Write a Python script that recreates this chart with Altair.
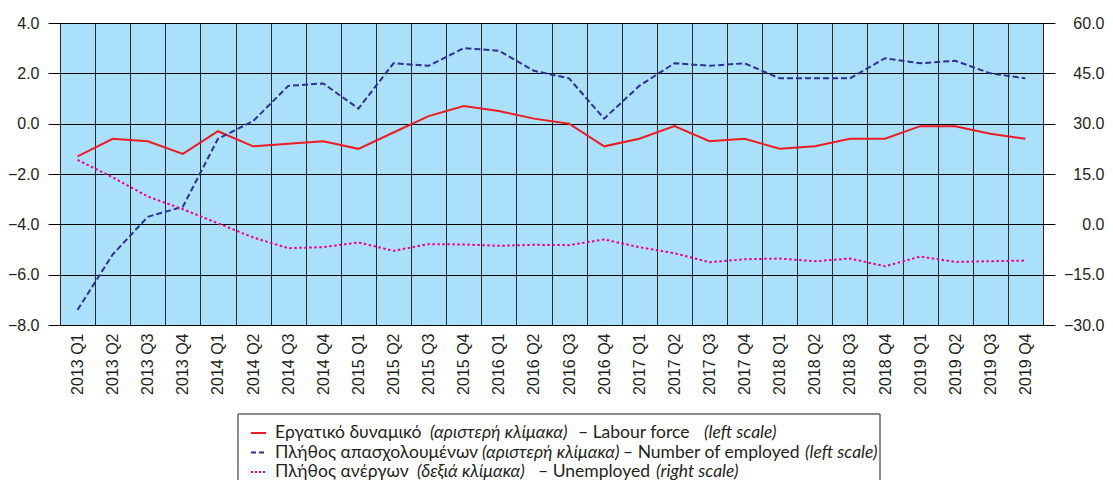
import altair as alt
import pandas as pd

quarters = [f"{y} Q{q}" for y in range(2013, 2020) for q in range(1, 5)]

labour_force = [-1.3, -0.6, -0.7, -1.2, -0.3, -0.9, -0.8, -0.7,
                -1.0, -0.35, 0.3, 0.7, 0.5, 0.2, 0.0, -0.9,
                -0.6, -0.1, -0.7, -0.6, -1.0, -0.9, -0.6, -0.6,
                -0.1, -0.1, -0.4, -0.6]
employed = [-7.4, -5.2, -3.7, -3.3, -0.6, 0.1, 1.5, 1.6,
            0.6, 2.4, 2.3, 3.0, 2.9, 2.1, 1.8, 0.2,
            1.5, 2.4, 2.3, 2.4, 1.8, 1.8, 1.8, 2.6,
            2.4, 2.5, 2.0, 1.8]
unemployed = [19.2, 14.0, 8.3, 4.5, 0.3, -3.9, -7.1, -6.8,
              -5.4, -7.9, -5.9, -6.0, -6.4, -6.1, -6.2, -4.5,
              -6.8, -8.6, -11.3, -10.4, -10.2, -11.0, -10.2, -12.5,
              -9.6, -11.2, -11.0, -10.8]

left_ticks = [-8, -6, -4, -2, 0, 2, 4]
right_ticks = [-30, -15, 0, 15, 30, 45, 60]

legend_segments = [
    ["Εργατικό δυναμικό", "(αριστερή κλίμακα)", "– Labour force", "(left scale)"],
    ["Πλήθος απασχολουμένων", "(αριστερή κλίμακα)", "– Number of employed", "(left scale)"],
    ["Πλήθος ανέργων", "(δεξιά κλίμακα)", "– Unemployed", "(right scale)"],
]

df = pd.DataFrame({"quarter": quarters, "labour": labour_force,
                   "employed": employed, "unemployed": unemployed})

RED = "#ed1c24"
NAVY = "#2e3192"
PINK = "#ec008c"
LABEL_COLOR = "#231f20"
AXIS_FONT = "Liberation Sans"

x_enc = alt.X("quarter:N", sort=quarters, bandPosition=0.5,
              scale=alt.Scale(type="band", paddingInner=0, paddingOuter=0),
              axis=alt.Axis(title=None, labelAngle=270, tickBand="extent",
                            grid=True, gridColor="#2a2a2a", gridWidth=1,
                            ticks=False, domain=False, labelPadding=8,
                            labelFont=AXIS_FONT, labelFontSize=16,
                            labelColor=LABEL_COLOR))

left_axis = alt.Axis(title=None, values=left_ticks, format=".1f", grid=True,
                     gridColor="black", gridWidth=1, tickSize=12,
                     tickColor="black", domain=False, labelPadding=9,
                     labelFont=AXIS_FONT, labelFontSize=16,
                     labelColor=LABEL_COLOR)
left_scale = alt.Scale(domain=[-8, 4], nice=False, zero=False)

labour_line = alt.Chart(df).mark_line(color=RED, strokeWidth=2).encode(
    x=x_enc, y=alt.Y("labour:Q", scale=left_scale, axis=left_axis))
employed_line = alt.Chart(df).mark_line(color=NAVY, strokeWidth=2,
                                        strokeDash=[6, 3]).encode(
    x=x_enc, y=alt.Y("employed:Q", scale=left_scale, axis=left_axis))

right_line = alt.Chart(df).mark_line(color=PINK, strokeWidth=2,
                                     strokeDash=[2.5, 2.5]).encode(
    x=x_enc,
    y=alt.Y("unemployed:Q",
            scale=alt.Scale(domain=[-30, 60], nice=False, zero=False),
            axis=alt.Axis(title=None, orient="right", values=right_ticks,
                          format=".1f", grid=False, tickSize=12,
                          tickColor="black", domain=False, labelAlign="right",
                          labelPadding=49, labelFont=AXIS_FONT,
                          labelFontSize=16, labelColor=LABEL_COLOR)))

left = alt.layer(labour_line, employed_line)

# ---- custom legend (layout positions in plot-area pixels) ----
one = pd.DataFrame({"k": [0]})
BOX_L, BOX_R, BOX_T, BOX_B = 178, 820, 391, 470
box_color = "#666666"
legend_layers = [
    alt.Chart(one).mark_rule(color=box_color, strokeWidth=1.5).encode(
        x=alt.value(BOX_L), x2=alt.value(BOX_R), y=alt.value(BOX_T)),
    alt.Chart(one).mark_rule(color=box_color, strokeWidth=1.5).encode(
        x=alt.value(BOX_L), y=alt.value(BOX_T), y2=alt.value(BOX_B)),
    alt.Chart(one).mark_rule(color=box_color, strokeWidth=1.5).encode(
        x=alt.value(BOX_R), y=alt.value(BOX_T), y2=alt.value(BOX_B)),
]
row_y = [410, 429.5, 449]
OX = 60  # page x of plot origin
seg_page_x = [[275, 430, 578, 704], [275, 482, 623, 805], [275, 417, 538, 656]]
sym_styles = [(RED, None), (NAVY, [5, 3]), (PINK, [2, 2])]
for i, (segs, yy) in enumerate(zip(legend_segments, row_y)):
    col, dash = sym_styles[i]
    kw = dict(color=col, strokeWidth=2)
    if dash:
        kw["strokeDash"] = dash
    legend_layers.append(alt.Chart(one).mark_rule(**kw).encode(
        x=alt.value(191), x2=alt.value(206), y=alt.value(yy)))
    for j, (txt, xx) in enumerate(zip(segs, seg_page_x[i])):
        legend_layers.append(alt.Chart(one).mark_text(
            align="left", baseline="middle", font="Lato", fontSize=17.5,
            fontStyle="italic" if j % 2 == 1 else "normal",
            color=LABEL_COLOR).encode(
            x=alt.value(xx - OX), y=alt.value(yy), text=alt.value(txt)))

chart = alt.layer(left, right_line, *legend_layers).resolve_scale(
    y="independent"
).properties(
    width=983, height=302,
    padding={"left": 52, "top": 15, "right": 62, "bottom": 155},
    autosize=alt.AutoSizeParams(type="none"),
).configure_view(fill="#aae0fa", stroke="black", strokeWidth=1)

chart.save("out.html", embed_options={"renderer": "svg", "actions": False})
